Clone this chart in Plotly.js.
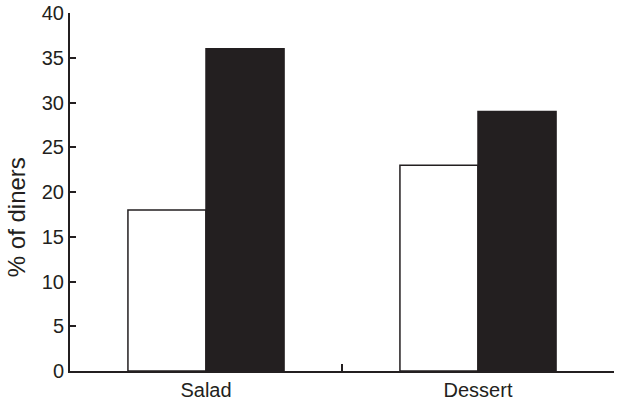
<!DOCTYPE html>
<html>
<head>
<meta charset="utf-8">
<script src="https://cdn.plot.ly/plotly-3.0.1.min.js"></script>
<style>
html,body{margin:0;padding:0;background:#fff;}
#chart{width:618px;height:404px;}
</style>
</head>
<body>
<div id="chart"></div>
<script>
const categories = ["Salad", "Dessert"];
const seriesA = [18, 23];
const seriesB = [36, 29];
const yTicks = [0, 5, 10, 15, 20, 25, 30, 35, 40];
const yTitle = "% of diners";

const tickFont = {family: "Liberation Sans, Arial, sans-serif", size: 20, color: "#231f20"};
const titleFont = {family: "Liberation Sans, Arial, sans-serif", size: 24, color: "#231f20"};

const traces = [
  {type: "bar", x: categories, y: seriesA, name: "A",
   marker: {color: "#ffffff", line: {color: "#231f20", width: 1.5}}},
  {type: "bar", x: categories, y: seriesB, name: "B",
   marker: {color: "#231f20", line: {color: "#231f20", width: 1.5}}}
];

const layout = {
  width: 618, height: 404,
  margin: {l: 70, r: 4, t: 13, b: 33, pad: 0},
  paper_bgcolor: "#ffffff", plot_bgcolor: "#ffffff",
  showlegend: false,
  barmode: "group",
  bargap: 0.426, bargroupgap: 0,
  font: tickFont,
  xaxis: {
    type: "category", range: [-0.5, 1.5],
    showline: true, linecolor: "#231f20", linewidth: 2,
    ticks: "inside", ticklen: 7, tickwidth: 2, tickcolor: "#231f20",
    tickson: "boundaries",
    showgrid: false, zeroline: false,
    tickfont: tickFont, fixedrange: true
  },
  yaxis: {
    range: [0, 40], tickvals: yTicks,
    showline: true, linecolor: "#231f20", linewidth: 2,
    ticks: "inside", ticklen: 6, tickwidth: 2, tickcolor: "#231f20",
    showgrid: false, zeroline: false,
    tickfont: tickFont,
    fixedrange: true
  },
  annotations: [{
    text: yTitle, xref: "paper", yref: "paper",
    x: -0.099, y: 0.43, xanchor: "center", yanchor: "middle",
    textangle: -90, showarrow: false, font: titleFont
  }]
};

Plotly.newPlot("chart", traces, layout, {displayModeBar: false, staticPlot: true});
</script>
</body>
</html>
